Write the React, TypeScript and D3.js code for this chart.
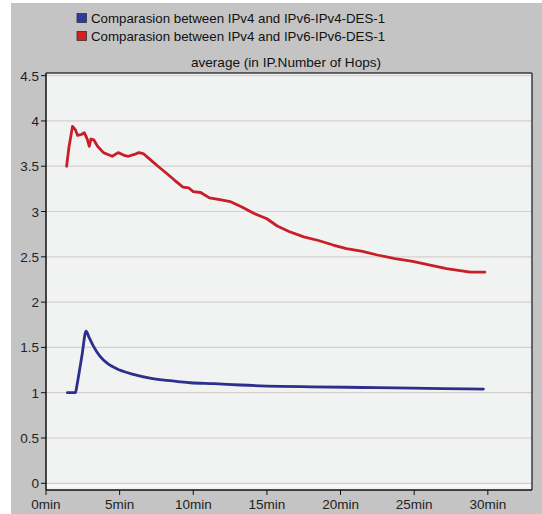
import React from "react";
import * as d3 from "d3";

const seriesNames = [
  "Comparasion between IPv4 and IPv6-IPv4-DES-1",
  "Comparasion between IPv4 and IPv6-IPv6-DES-1",
];
const chartTitle = "average (in IP.Number of Hops)";
const yTicks = [0, 0.5, 1, 1.5, 2, 2.5, 3, 3.5, 4, 4.5];
const xTicks = [0, 5, 10, 15, 20, 25, 30];
const xTickLabels = ["0min", "5min", "10min", "15min", "20min", "25min", "30min"];

const blueTime = [1.45, 2.0, 2.1, 2.45, 2.72, 2.9, 3.2, 3.67, 4.2, 5.0, 6.0, 7.06, 8.2, 9.1, 9.8, 11.4, 13.2, 15.9, 18.0, 20.4, 22.5, 24.9, 27.0, 29.7];
const blueVals = [1.0, 1.0, 1.08, 1.42, 1.68, 1.62, 1.52, 1.4, 1.32, 1.25, 1.2, 1.16, 1.135, 1.12, 1.11, 1.1, 1.085, 1.07, 1.065, 1.06, 1.055, 1.05, 1.045, 1.04];

const redTime = [1.4, 1.55, 1.8, 2.0, 2.15, 2.4, 2.6, 2.8, 2.94, 3.05, 3.25, 3.5, 3.9, 4.2, 4.5, 4.9, 5.3, 5.6, 6.0, 6.3, 6.6, 7.1, 7.6, 8.2, 8.7, 9.3, 9.7, 10.0, 10.5, 11.1, 11.8, 12.5, 13.3, 14.1, 15.0, 15.7, 16.5, 17.5, 18.5, 19.5, 20.4, 21.5, 22.5, 23.7, 24.9, 26.0, 27.2, 28.0, 28.8, 29.3, 29.8];
const redVals = [3.5, 3.7, 3.94, 3.9, 3.84, 3.85, 3.87, 3.8, 3.72, 3.8, 3.79, 3.72, 3.65, 3.63, 3.61, 3.65, 3.62, 3.61, 3.63, 3.65, 3.64, 3.57, 3.5, 3.42, 3.35, 3.27, 3.26, 3.22, 3.21, 3.15, 3.13, 3.11, 3.05, 2.98, 2.92, 2.84, 2.78, 2.72, 2.68, 2.63, 2.59, 2.56, 2.52, 2.48, 2.45, 2.41, 2.37, 2.35, 2.33, 2.33, 2.33];

const colors = ["#2e2e8c", "#c81e28"];
const legendFill = ["#2d3a9e", "#d42020"];

export default function App() {
  const W = 542, H = 514;
  const left = 46, right = 532, top = 73, bottom = 490;
  const x = d3.scaleLinear().domain([0, 33]).range([left, right]);
  const y = d3.scaleLinear().domain([-0.074, 4.529]).range([bottom, top]);

  const blue = blueTime.map((t, i) => [t, blueVals[i]] as [number, number]);
  const red = redTime.map((t, i) => [t, redVals[i]] as [number, number]);
  const lineSmooth = d3.line<[number, number]>().x(d => x(d[0])).y(d => y(d[1])).curve(d3.curveMonotoneX);
  const lineLin = d3.line<[number, number]>().x(d => x(d[0])).y(d => y(d[1]));

  const font = "Arial, 'Liberation Sans', sans-serif";

  return (
    <svg width={W} height={H} style={{ position: "absolute", left: 0, top: 0 }} fontFamily={font}>
      <rect x={0} y={0} width={W} height={H} fill="#ffffff" />
      <rect x={11} y={3} width={W - 11} height={H - 3} fill="#c4c4c4" />
      {/* legend */}
      {seriesNames.map((n, i) => (
        <g key={n}>
          <rect x={77} y={13.5 + i * 18} width={9.5} height={9} fill={legendFill[i]} stroke="#333" strokeWidth={0.8} />
          <text x={91} y={23 + i * 18} fontSize={13.3} fill="#111">{n}</text>
        </g>
      ))}
      <text x={286} y={67} fontSize={13.6} fill="#111" textAnchor="middle">{chartTitle}</text>
      {/* plot area */}
      <rect x={left} y={top} width={right - left} height={bottom - top} fill="#f1f3f3" />
      <line x1={left} x2={right} y1={bottom - 4} y2={bottom - 4} stroke="#fbfbfb" strokeWidth={2} />
      {yTicks.map(v => (
        <line key={"g" + v} x1={left} x2={right} y1={y(v)} y2={y(v)} stroke="#d6d0cc" strokeWidth={1.2} />
      ))}
      {/* frame */}
      <line x1={left} x2={right} y1={top} y2={top} stroke="#3a3a3a" strokeWidth={1.5} />
      <line x1={right} x2={right} y1={top} y2={bottom} stroke="#3a3a3a" strokeWidth={1.5} />
      <line x1={left} x2={left} y1={top} y2={bottom} stroke="#111" strokeWidth={1.5} />
      <line x1={left} x2={right} y1={bottom} y2={bottom} stroke="#111" strokeWidth={1.5} />
      {/* y ticks */}
      {yTicks.map(v => (
        <g key={"y" + v}>
          <line x1={left - 5} x2={left} y1={y(v)} y2={y(v)} stroke="#111" strokeWidth={1} />
          <text x={left - 7} y={y(v) + 5} fontSize={13.5} fill="#222" textAnchor="end">{String(v)}</text>
        </g>
      ))}
      {/* x ticks */}
      {xTicks.map((v, i) => (
        <g key={"x" + v}>
          <line x1={x(v)} x2={x(v)} y1={bottom} y2={bottom + 5} stroke="#111" strokeWidth={1} />
          <text x={x(v)} y={bottom + 18.5} fontSize={13.5} fill="#222" textAnchor="middle">{xTickLabels[i]}</text>
        </g>
      ))}
      {/* series */}
      <path d={lineSmooth(blue) || ""} fill="none" stroke={colors[0]} strokeWidth={2.8} strokeLinejoin="round" strokeLinecap="round" />
      <path d={lineLin(red) || ""} fill="none" stroke={colors[1]} strokeWidth={2.8} strokeLinejoin="round" strokeLinecap="round" />
    </svg>
  );
}
